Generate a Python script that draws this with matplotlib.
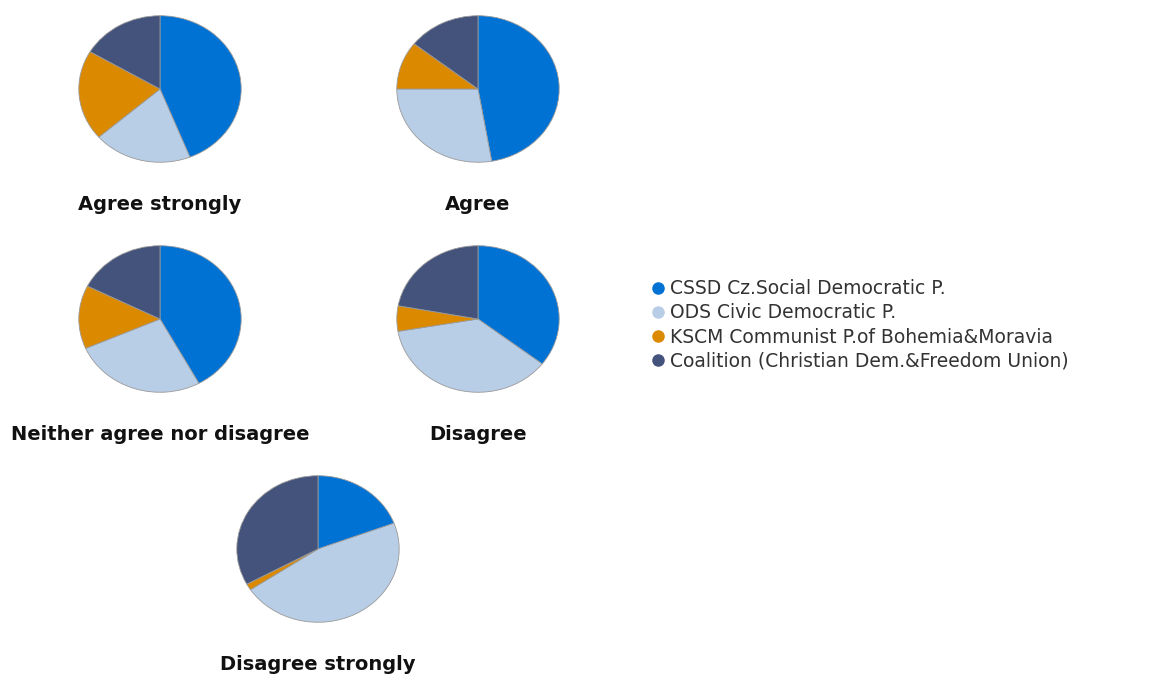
import matplotlib.pyplot as plt
from matplotlib.lines import Line2D

plt.rcParams['font.family'] = ['DejaVu Sans']

# Data (shares, percent)
parties = ['CSSD Cz.Social Democratic P.', 'ODS Civic Democratic P.',
           'KSCM Communist P.of Bohemia&Moravia', 'Coalition (Christian Dem.&Freedom Union)']
colors = ['#0072D4', '#B8CDE6', '#DB8A00', '#44537C']
answers = ['Agree strongly', 'Agree', 'Neither agree nor disagree', 'Disagree', 'Disagree strongly']
cssd = [44.0, 47.3, 42.1, 35.5, 19.3]
ods = [19.6, 27.7, 26.4, 36.8, 46.4]
kscm = [19.9, 10.6, 14.0, 5.6, 1.4]
coalition = [16.5, 14.4, 17.6, 22.1, 33.0]

W, H = 1150, 675
fig = plt.figure(figsize=(W / 100, H / 100), dpi=100)

# pie centres in pixels (from top-left)
centres = [(160, 89), (478, 89), (160, 319), (478, 319), (318, 549)]
pw, ph = 164, 148

for i, name in enumerate(answers):
    cx, cy = centres[i]
    ax = fig.add_axes([(cx - pw / 2) / W, 1 - (cy + ph / 2) / H, pw / W, ph / H])
    vals = [cssd[i], ods[i], kscm[i], coalition[i]]
    ax.pie(vals, colors=colors, startangle=90, counterclock=False,
           wedgeprops=dict(edgecolor='#9a9a9a', linewidth=0.6))
    ax.set_aspect('auto')
    ax.set_xlim(-1.01, 1.01)
    ax.set_ylim(-1.01, 1.01)
    fig.text(cx / W, 1 - (cy + 116) / H, name, ha='center', va='center',
             fontsize=14, fontweight='bold', color='#111111')

handles = [Line2D([], [], marker='o', linestyle='', markersize=8,
                  markerfacecolor=c, markeredgecolor=c) for c in colors]
fig.legend(handles, parties, loc='center left', bbox_to_anchor=(652 / W, 1 - 325 / H),
           frameon=False, fontsize=13.5, labelcolor='#333333', handletextpad=0.35,
           handlelength=0.6, labelspacing=0.27, borderpad=0, borderaxespad=0)

fig.savefig('out.png', dpi=100)
